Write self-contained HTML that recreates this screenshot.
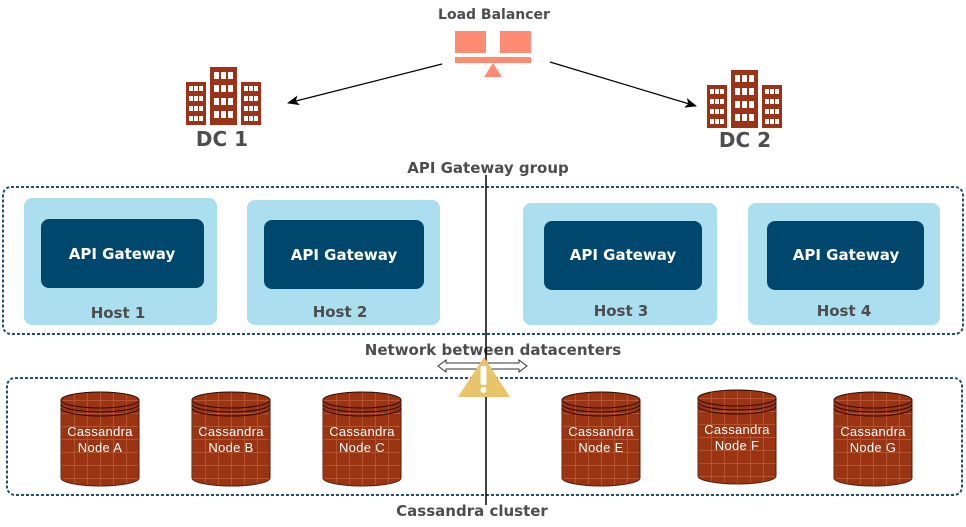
<!DOCTYPE html>
<html><head><meta charset="utf-8"><style>
html,body{margin:0;padding:0;background:#fff;}
svg{display:block;}
.lb{font-family:"DejaVu Sans",Verdana,sans-serif;font-weight:bold;fill:#4d4d4d;}
.ag{font-family:"DejaVu Sans",Verdana,sans-serif;font-weight:bold;fill:#fff;font-size:15px;}
.cn{font-family:"Liberation Sans",Arial,sans-serif;fill:#fff;font-size:13px;letter-spacing:0.3px;}
</style></head><body>
<svg width="966" height="527" viewBox="0 0 966 527" xmlns="http://www.w3.org/2000/svg">
<defs>
<marker id="ah" markerWidth="12" markerHeight="10" refX="11" refY="5" orient="auto" markerUnits="userSpaceOnUse">
<path d="M0,0 L12,5 L0,10 L3,5 Z" fill="#000"/></marker>
<pattern id="grid" width="13" height="13" patternUnits="userSpaceOnUse">
<rect width="13" height="13" fill="#9b3413"/>
<path d="M0,0.5H13M0.5,0V13" stroke="#b5532e" stroke-width="1"/></pattern>
<g id="tower3">
<rect x="0" y="0" width="20" height="43" fill="#9c3316"/>
<g fill="#fff">
<rect x="3" y="4" width="4" height="5"/><rect x="8" y="4" width="4" height="5"/><rect x="13" y="4" width="4" height="5"/>
<rect x="3" y="14" width="4" height="5"/><rect x="8" y="14" width="4" height="5"/><rect x="13" y="14" width="4" height="5"/>
<rect x="3" y="24" width="4" height="5"/><rect x="8" y="24" width="4" height="5"/><rect x="13" y="24" width="4" height="5"/>
<rect x="3" y="34" width="4" height="5"/><rect x="8" y="34" width="4" height="5"/><rect x="13" y="34" width="4" height="5"/>
</g></g>
<g id="towerC">
<rect x="0" y="0" width="27" height="58" fill="#9c3316"/>
<g fill="#fff">
<rect x="4" y="5" width="5" height="7"/><rect x="11" y="5" width="5" height="7"/><rect x="18" y="5" width="5" height="7"/>
<rect x="4" y="18" width="5" height="7"/><rect x="11" y="18" width="5" height="7"/><rect x="18" y="18" width="5" height="7"/>
<rect x="4" y="31" width="5" height="7"/><rect x="11" y="31" width="5" height="7"/><rect x="18" y="31" width="5" height="7"/>
<rect x="4" y="44" width="5" height="7"/><rect x="11" y="44" width="5" height="7"/><rect x="18" y="44" width="5" height="7"/>
</g></g>
<g id="bld">
<use href="#tower3" x="0" y="15"/><use href="#towerC" x="24" y="0"/><use href="#tower3" x="55" y="15"/>
</g>
<g id="cyl">
<path d="M-39,0 V78 A39,8 0 0 0 39,78 V0 Z" fill="url(#grid)" stroke="#5a1c06" stroke-width="1"/>
<ellipse cx="0" cy="0" rx="39" ry="8" fill="url(#grid)" stroke="#2a0a02" stroke-width="1"/>
<path d="M-39,4 A39,8 0 0 0 39,4 M-39,8 A39,8 0 0 0 39,8" fill="none" stroke="#2a0a02" stroke-width="1"/>
</g>
</defs>

<text x="494" y="19" text-anchor="middle" class="lb" font-size="14">Load Balancer</text>
<rect x="455" y="31" width="31" height="22" fill="#ff8c72"/>
<rect x="500" y="31" width="31" height="22" fill="#ff8c72"/>
<rect x="455" y="57" width="76" height="6" fill="#ff8c72"/>
<path d="M493,63 L502,77 L484,77 Z" fill="#ff8c72"/>

<line x1="442" y1="64" x2="288" y2="103" stroke="#000" stroke-width="1.2" marker-end="url(#ah)"/>
<line x1="550" y1="62" x2="696" y2="106" stroke="#000" stroke-width="1.2" marker-end="url(#ah)"/>

<use href="#bld" x="186" y="67"/>
<text x="222" y="146" text-anchor="middle" class="lb" font-size="20">DC 1</text>
<use href="#bld" x="707" y="70"/>
<text x="745" y="147" text-anchor="middle" class="lb" font-size="20">DC 2</text>

<text x="488" y="173" text-anchor="middle" class="lb" font-size="15">API Gateway group</text>

<rect x="3" y="187" width="960" height="147" rx="8" fill="none" stroke="#1f4e6e" stroke-width="2" stroke-dasharray="3,2"/>

<rect x="24" y="198" width="193" height="127" rx="8" fill="#abdeef"/>
<rect x="41" y="219" width="163" height="69" rx="8" fill="#00476e"/>
<text x="122" y="259" text-anchor="middle" class="ag">API Gateway</text>
<text x="118" y="318" text-anchor="middle" class="lb" font-size="15">Host 1</text>

<rect x="247" y="200" width="193" height="125" rx="8" fill="#abdeef"/>
<rect x="264" y="220" width="160" height="69" rx="8" fill="#00476e"/>
<text x="344" y="260" text-anchor="middle" class="ag">API Gateway</text>
<text x="340" y="317" text-anchor="middle" class="lb" font-size="15">Host 2</text>

<rect x="523" y="203" width="194" height="122" rx="8" fill="#abdeef"/>
<rect x="544" y="221" width="158" height="69" rx="8" fill="#00476e"/>
<text x="623" y="260" text-anchor="middle" class="ag">API Gateway</text>
<text x="621" y="316" text-anchor="middle" class="lb" font-size="15">Host 3</text>

<rect x="748" y="203" width="192" height="122" rx="8" fill="#abdeef"/>
<rect x="767" y="221" width="157" height="69" rx="8" fill="#00476e"/>
<text x="846" y="260" text-anchor="middle" class="ag">API Gateway</text>
<text x="844" y="316" text-anchor="middle" class="lb" font-size="15">Host 4</text>

<text x="493" y="355" text-anchor="middle" class="lb" font-size="15">Network between datacenters</text>

<rect x="7" y="378" width="955" height="117" rx="8" fill="none" stroke="#1f4e6e" stroke-width="2" stroke-dasharray="3,2"/>

<path d="M438,366 L446,360 L446,363 L519,363 L519,360 L527,366 L519,372 L519,369 L446,369 L446,372 Z" fill="#fff" stroke="#333" stroke-width="1"/>

<line x1="486" y1="175" x2="486" y2="505" stroke="#000" stroke-width="1.5"/>

<path d="M484,357 L510,397 L458,397 Z" fill="#e8c46a"/>
<rect x="480.5" y="366" width="6" height="19" rx="2" fill="#fff"/>
<circle cx="483.5" cy="390" r="3" fill="#fff"/>

<use href="#cyl" x="100" y="400"/>
<text x="100" y="436" text-anchor="middle" class="cn">Cassandra</text>
<text x="100" y="452" text-anchor="middle" class="cn">Node A</text>
<use href="#cyl" x="231" y="400"/>
<text x="231" y="436" text-anchor="middle" class="cn">Cassandra</text>
<text x="231" y="452" text-anchor="middle" class="cn">Node B</text>
<use href="#cyl" x="362" y="400"/>
<text x="362" y="436" text-anchor="middle" class="cn">Cassandra</text>
<text x="362" y="452" text-anchor="middle" class="cn">Node C</text>
<use href="#cyl" x="601" y="400"/>
<text x="601" y="436" text-anchor="middle" class="cn">Cassandra</text>
<text x="601" y="452" text-anchor="middle" class="cn">Node E</text>
<use href="#cyl" x="737" y="398"/>
<text x="737" y="434" text-anchor="middle" class="cn">Cassandra</text>
<text x="737" y="450" text-anchor="middle" class="cn">Node F</text>
<use href="#cyl" x="873" y="400"/>
<text x="873" y="436" text-anchor="middle" class="cn">Cassandra</text>
<text x="873" y="452" text-anchor="middle" class="cn">Node G</text>

<text x="472" y="516" text-anchor="middle" class="lb" font-size="15">Cassandra cluster</text>
</svg>
</body></html>
